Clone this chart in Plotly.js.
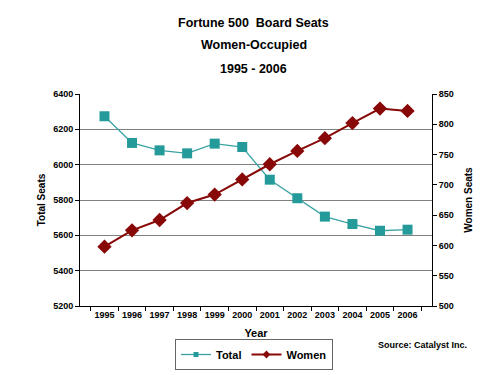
<!DOCTYPE html>
<html>
<head>
<meta charset="utf-8">
<script src="https://cdn.plot.ly/plotly-3.0.1.min.js"></script>
<style>html,body{margin:0;padding:0;background:#fff;}#chart{width:500px;height:375px;}</style>
</head>
<body>
<div id="chart"></div>
<script>
var years = ["1995","1996","1997","1998","1999","2000","2001","2002","2003","2004","2005","2006"];
var totalSeats = [6274, 6123, 6081, 6064, 6119, 6100, 5915, 5810, 5706, 5664, 5626, 5632];
var womenSeats = [598, 625, 642, 670, 684, 709, 734, 756, 777, 802, 826, 822];
var leftTicks = [5200, 5400, 5600, 5800, 6000, 6200, 6400];
var rightTicks = [500, 550, 600, 650, 700, 750, 800, 850];

var F = "Arial, 'Liberation Sans', sans-serif";
var TEAL = "#259a9a", TEAL_LINE = "#3aa3a3", RED = "#880808";

var traces = [
  {
    x: years, y: totalSeats, name: "Total", type: "scatter", mode: "lines+markers",
    line: {color: TEAL_LINE, width: 1.3},
    marker: {symbol: "square", size: 10, color: TEAL, line: {width: 0}},
    yaxis: "y", showlegend: false
  },
  {
    x: years, y: womenSeats, name: "Women", type: "scatter", mode: "lines+markers",
    line: {color: RED, width: 2},
    marker: {symbol: "diamond", size: 11, color: RED, line: {width: 0}},
    yaxis: "y2", showlegend: false
  },
  {
    x: [null], y: [null], name: "Total", type: "scatter", mode: "lines+markers",
    line: {color: TEAL_LINE, width: 1.3},
    marker: {symbol: "square", size: 5, color: TEAL, line: {width: 0}},
    yaxis: "y", showlegend: true, hoverinfo: "skip"
  },
  {
    x: [null], y: [null], name: "Women", type: "scatter", mode: "lines+markers",
    line: {color: RED, width: 2},
    marker: {symbol: "diamond", size: 6, color: RED, line: {width: 0}},
    yaxis: "y2", showlegend: true, hoverinfo: "skip"
  }
];

var layout = {
  width: 500, height: 375,
  margin: {l: 80, r: 68, t: 94, b: 69},
  paper_bgcolor: "#ffffff", plot_bgcolor: "#ffffff",
  font: {family: F, color: "#000"},
  showlegend: true,
  legend: {
    orientation: "h", xref: "container", yref: "container",
    x: 0.508, xanchor: "center", y: 0.096, yanchor: "top",
    bordercolor: "#666", borderwidth: 1,
    font: {family: F, size: 11, color: "#000", weight: "bold"},
    itemwidth: 30, tracegroupgap: 0
  },
  xaxis: {
    type: "category",
    tickson: "boundaries",
    tickangle: 0,
    ticks: "outside", ticklen: 4, tickcolor: "#000",
    showline: true, linecolor: "#000", linewidth: 1,
    showgrid: false, zeroline: false,
    tickfont: {family: F, size: 9, weight: "bold"},
    title: {text: "Year", font: {family: F, size: 11, weight: "bold"}, standoff: 12},
    automargin: false
  },
  yaxis: {
    range: [5200, 6400],
    tickvals: leftTicks,
    ticks: "outside", ticklen: 4, tickcolor: "#000",
    showline: true, linecolor: "#000", linewidth: 1,
    showgrid: true, gridcolor: "#808080", gridwidth: 1,
    zeroline: false,
    tickfont: {family: F, size: 9, weight: "bold"},
    title: {text: "Total Seats", font: {family: F, size: 10, weight: "bold"}, standoff: 5},
    automargin: false
  },
  yaxis2: {
    range: [500, 850],
    tickvals: rightTicks,
    overlaying: "y", side: "right",
    ticks: "outside", ticklen: 4, tickcolor: "#000",
    showline: true, linecolor: "#000", linewidth: 1,
    showgrid: false, zeroline: false,
    tickfont: {family: F, size: 9, weight: "bold"},
    title: {text: "Women Seats", font: {family: F, size: 10, weight: "bold"}, standoff: 12},
    automargin: false
  },
  annotations: [
    {text: "Fortune 500\u00a0\u00a0Board Seats", xref: "paper", yref: "paper", x: 0.494, y: 1.335, showarrow: false,
     font: {family: F, size: 12.5, weight: "bold"}, xanchor: "center", yanchor: "middle"},
    {text: "Women-Occupied", xref: "paper", yref: "paper", x: 0.494, y: 1.231, showarrow: false,
     font: {family: F, size: 12.5, weight: "bold"}, xanchor: "center", yanchor: "middle"},
    {text: "1995 - 2006", xref: "paper", yref: "paper", x: 0.494, y: 1.118, showarrow: false,
     font: {family: F, size: 12.5, weight: "bold"}, xanchor: "center", yanchor: "middle"},
    {text: "Source: Catalyst Inc.", xref: "paper", yref: "paper", x: 1.105, y: -0.184, showarrow: false,
     font: {family: F, size: 9, weight: "bold"}, xanchor: "right", yanchor: "middle"}
  ]
};

Plotly.newPlot("chart", traces, layout, {displayModeBar: false, staticPlot: true});
</script>
</body>
</html>
